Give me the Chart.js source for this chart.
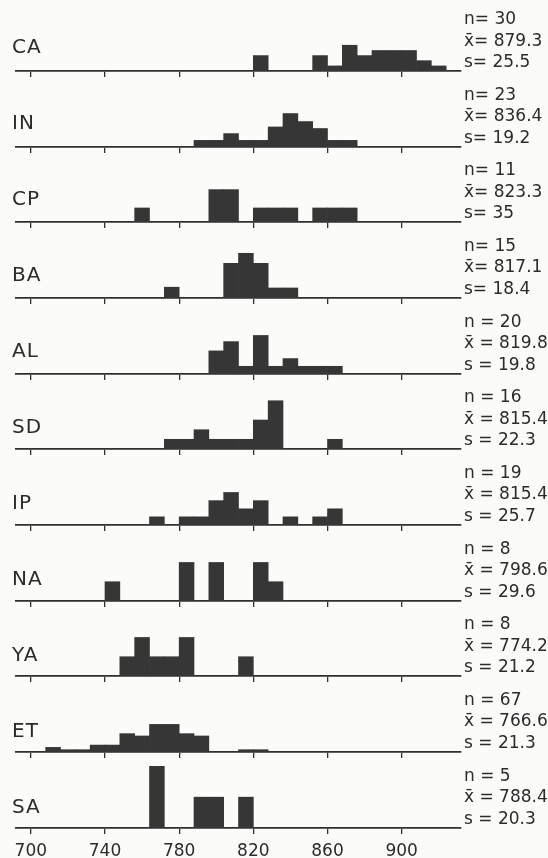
<!DOCTYPE html>
<html lang="en">
<head>
<meta charset="UTF-8" />
<title>Histograms by group</title>
<script src="https://cdn.jsdelivr.net/npm/chart.js"></script>
<style>
  body { margin: 0; background: #fbfbfa; }
  #wrap { position: relative; width: 548px; height: 858px; overflow: hidden;
          font-family: "DejaVu Sans", sans-serif; color: #2b2b2b; }
  .panel { position: absolute; left: 0; width: 548px; }
  .grp { position: absolute; left: 12px; font-size: 20px; line-height: 20px; letter-spacing: 1px; }
  .stats { position: absolute; left: 464px; font-size: 17px; line-height: 21.5px; white-space: pre; }
</style>
</head>
<body>
<div id="wrap"></div>
<script>
// groups, sample size and summary stats printed at the right
const groups = ["CA", "IN", "CP", "BA", "AL", "SD", "IP", "NA", "YA", "ET", "SA"];
const nValues = [30, 23, 11, 15, 20, 16, 19, 8, 8, 67, 5];
const means = ["879.3", "836.4", "823.3", "817.1", "819.8", "815.4", "815.4", "798.6", "774.2", "766.6", "788.4"];
const sds = ["25.5", "19.2", "35", "18.4", "19.8", "22.3", "25.7", "29.6", "21.2", "21.3", "20.3"];

// histogram bins (start of each 8-unit class) and x tick labels
const binStarts = [700, 708, 716, 724, 732, 740, 748, 756, 764, 772, 780, 788, 796, 804, 812,
                   820, 828, 836, 844, 852, 860, 868, 876, 884, 892, 900, 908, 916, 924];
const binWidth = 8;
const tickValues = [700, 740, 780, 820, 860, 900];

// relative frequency (%) per bin
const CA = [0,0,0,0,0, 0,0,0,0,0, 0,0,0,0,0, 10,0,0,0,10, 3.3,16.7,10,13.3,13.3, 13.3,6.7,3.3,0];
const IN = [0,0,0,0,0, 0,0,0,0,0, 0,4.3,4.3,8.7,4.3, 4.3,13,21.7,16.5,12, 4.3,4.3,0,0,0, 0,0,0,0];
const CP = [0,0,0,0,0, 0,0,9.1,0,0, 0,0,21,21,0, 9.1,9.1,9.1,0,9.1, 9.1,9.1,0,0,0, 0,0,0,0];
const BA = [0,0,0,0,0, 0,0,0,0,7, 0,0,0,22.5,29, 22.5,6.5,6.5,0,0, 0,0,0,0,0, 0,0,0,0];
const AL = [0,0,0,0,0, 0,0,0,0,0, 0,0,15,21,5, 25,5,10,5,5, 5,0,0,0,0, 0,0,0,0];
const SD = [0,0,0,0,0, 0,0,0,0,6.3, 6.3,12.5,6.3,6.3,6.3, 18.8,31.3,0,0,0, 6.3,0,0,0,0, 0,0,0,0];
const IP = [0,0,0,0,0, 0,0,0,5.3,0, 5.3,5.3,15.8,21.1,10.5, 15.8,0,5.3,0,5.3, 10.5,0,0,0,0, 0,0,0,0];
const NA = [0,0,0,0,0, 12.5,0,0,0,0, 25,0,25,0,0, 25,12.5,0,0,0, 0,0,0,0,0, 0,0,0,0];
const YA = [0,0,0,0,0, 0,12.5,25,12.5,12.5, 25,0,0,0,12.5, 0,0,0,0,0, 0,0,0,0,0, 0,0,0,0];
const ET = [0,3,1.5,1.5,4.5, 4.5,11.9,10.4,17.9,17.9, 11.9,10.4,0,0,1.5, 1.5,0,0,0,0, 0,0,0,0,0, 0,0,0,0];
const SA = [0,0,0,0,0, 0,0,0,40,0, 0,20,20,0,20, 0,0,0,0,0, 0,0,0,0,0, 0,0,0,0];
const freqs = [CA, IN, CP, BA, AL, SD, IP, NA, YA, ET, SA];

const wrap = document.getElementById("wrap");
const firstBase = 71, pitch = 75.65, plotH = 74, yMax = 48;
const ink = "#2f2f2f";

groups.forEach((g, i) => {
    const base = firstBase + pitch * i;
    const last = i === groups.length - 1;
    const axisH = last ? 34 : 7;

    const box = document.createElement("div");
    box.className = "panel";
    box.style.top = (base - plotH) + "px";
    box.style.height = (plotH + axisH) + "px";
    const cv = document.createElement("canvas");
    box.appendChild(cv);
    wrap.appendChild(box);

    // label sits a little higher in the upper panels (page is slightly tilted)
    const lab = document.createElement("div");
    lab.className = "grp";
    lab.style.top = (base - 35 + i * 0.3) + "px";
    lab.textContent = g;
    wrap.appendChild(lab);

    const eq = i < 4 ? "= " : " = ";
    const st = document.createElement("div");
    st.className = "stats";
    st.style.top = (base - 63) + "px";
    st.textContent = "n" + eq + nValues[i] + "\nx\u0304" + eq + means[i] + "\ns" + eq + sds[i];
    wrap.appendChild(st);

    new Chart(cv, {
        type: "bar",
        data: {
            datasets: [{
                data: binStarts.map((b, k) => ({ x: b + binWidth / 2, y: freqs[i][k] })),
                backgroundColor: "#363636",
                borderWidth: 0,
                barPercentage: 1,
                categoryPercentage: 1
            }]
        },
        options: {
            responsive: true,
            maintainAspectRatio: false,
            animation: false,
            layout: { padding: { left: 16, right: 87, top: 0, bottom: 0 } },
            plugins: { legend: { display: false }, tooltip: { enabled: false } },
            scales: {
                x: {
                    type: "linear",
                    min: 692,
                    max: 932,
                    offset: false,
                    afterBuildTicks: s => { s.ticks = tickValues.map(v => ({ value: v })); },
                    afterFit: s => { s.height = axisH; },
                    grid: { offset: false, drawOnChartArea: false, drawTicks: true, tickLength: 6, color: ink, lineWidth: 1.3 },
                    border: { display: true, color: ink, width: 1.8 },
                    ticks: { display: last, padding: 7, color: "#2b2b2b", font: { family: "DejaVu Sans", size: 17 } }
                },
                y: { display: false, min: 0, max: yMax }
            }
        }
    });
});
</script>
</body>
</html>
